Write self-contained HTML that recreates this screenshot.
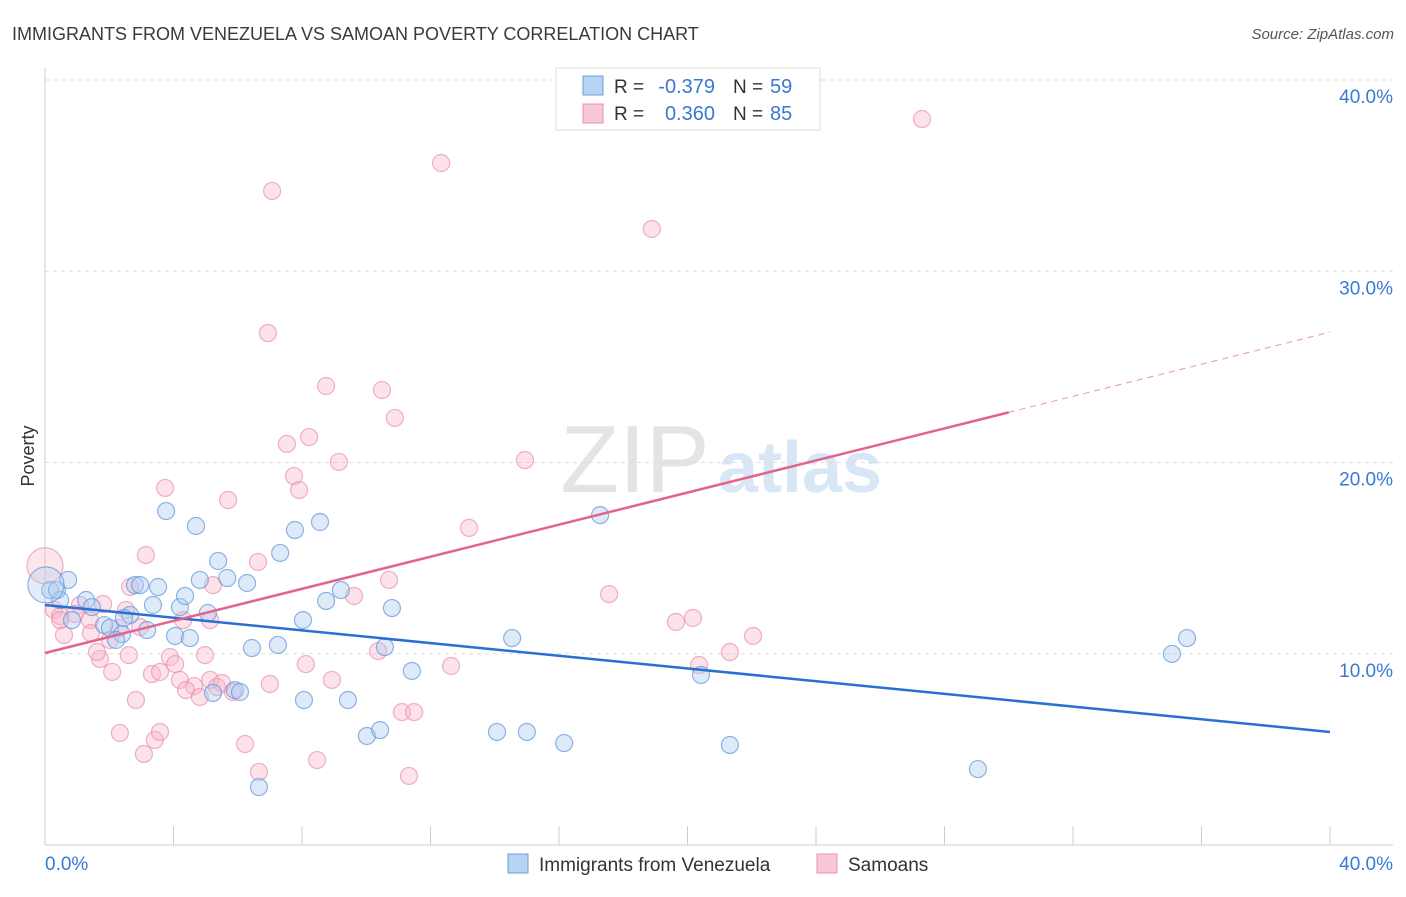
<!DOCTYPE html>
<html><head><meta charset="utf-8"><style>
body{margin:0;background:#fff;font-family:"Liberation Sans",sans-serif}
svg text{font-family:"Liberation Sans",sans-serif}
</style></head><body>
<svg id="c" width="1406" height="892">
<text x="12" y="40" font-size="18" fill="#3a3a3a">IMMIGRANTS FROM VENEZUELA VS SAMOAN POVERTY CORRELATION CHART</text>
<text x="1394" y="39" font-size="15" fill="#555" text-anchor="end" font-style="italic">Source: ZipAtlas.com</text>
<text x="34" y="456" font-size="18" fill="#333" transform="rotate(-90 34 456)" text-anchor="middle">Poverty</text>
<g><text x="635" y="492" font-size="96" font-family="Liberation Serif" fill="#e4e4e4" text-anchor="middle">ZIP</text><text x="800" y="492" font-size="72" fill="#d8e6f5" text-anchor="middle" font-weight="bold">atlas</text></g>
<g id="grid"></g><g id="pts"></g><g id="lines"></g>
<g>
<rect x="556" y="68" width="264" height="62" fill="#fff" stroke="#ddd"/>
<rect x="583" y="76" width="20" height="19" fill="#b8d2f2" stroke="#6a9fe0"/>
<rect x="583" y="104" width="20" height="19" fill="#f9c8d6" stroke="#ec8fac"/>
<text x="614" y="93" font-size="19" fill="#333">R =</text>
<text x="715" y="93" font-size="20" fill="#3a78d4" text-anchor="end">-0.379</text>
<text x="733" y="93" font-size="19" fill="#333">N =</text>
<text x="770" y="93" font-size="20" fill="#3a78d4">59</text>
<text x="614" y="120" font-size="19" fill="#333">R =</text>
<text x="715" y="120" font-size="20" fill="#3a78d4" text-anchor="end">0.360</text>
<text x="733" y="120" font-size="19" fill="#333">N =</text>
<text x="770" y="120" font-size="20" fill="#3a78d4">85</text>
</g>
<g>
<rect x="508" y="854" width="20" height="19" fill="#b8d2f2" stroke="#6a9fe0"/>
<text x="539" y="871" font-size="19" fill="#333">Immigrants from Venezuela</text>
<rect x="817" y="854" width="20" height="19" fill="#f9c8d6" stroke="#ec8fac"/>
<text x="848" y="871" font-size="19" fill="#333">Samoans</text>
</g>
</svg>
<script>
const yTicks=[10,20,30,40];
const yTickLabels=["10.0%","20.0%","30.0%","40.0%"];
const xTickLabels=["0.0%","40.0%"];
const blueX=[0.16,0.72,0.47,1.28,1.46,0.84,1.84,2.02,2.40,2.21,2.65,2.80,2.96,3.52,3.36,3.18,3.77,4.70,4.20,4.36,4.05,4.51,4.82,5.07,5.39,5.67,6.29,5.23,5.91,6.07,6.44,7.25,7.32,7.78,8.56,8.03,8.75,9.21,8.06,9.43,10.80,10.58,11.42,10.02,10.43,14.07,15.00,16.16,14.54,17.28,20.42,21.32,29.04,35.08,35.55,6.66,0.37,2.46,0.03];
const blueY=[13.33,13.86,12.81,12.81,12.44,11.76,11.50,11.35,11.03,10.72,12.03,13.59,13.59,13.49,12.55,11.24,17.46,16.68,12.44,13.02,10.93,10.82,13.86,12.13,14.85,13.96,13.70,7.95,8.10,8.00,10.30,10.46,15.27,16.47,16.89,11.76,12.76,13.33,7.58,7.58,12.39,10.35,9.10,5.70,6.01,5.91,5.91,5.33,10.82,17.25,8.89,5.23,3.97,9.99,10.82,3.03,13.33,11.87,13.6];
const pinkX=[7.07,12.33,18.89,27.30,6.94,8.75,10.49,10.89,8.22,7.53,9.15,7.75,7.91,14.94,3.74,5.70,13.20,3.14,6.63,10.71,17.56,20.17,19.64,22.04,9.62,5.23,2.65,1.81,1.09,2.52,0.28,0.93,0.47,1.40,2.30,2.96,0.59,1.43,1.71,1.62,2.61,3.89,4.98,2.09,3.33,3.58,4.05,4.20,4.64,4.39,5.14,5.35,5.51,4.82,5.85,7.00,8.12,8.93,10.37,12.64,20.36,21.32,2.83,2.33,3.42,3.58,3.08,6.23,6.66,8.47,11.11,11.49,11.33,0.47,2.02,5.14,4.30,0.0];
const pinkY=[34.20,35.66,32.21,37.96,26.77,24.00,23.79,22.33,21.33,20.97,20.03,19.29,18.56,20.13,18.67,18.04,16.58,15.16,14.80,13.86,13.12,11.87,11.66,10.93,13.02,13.59,13.49,12.60,12.55,12.29,12.29,12.08,11.97,11.76,11.35,11.40,10.98,11.08,9.73,10.09,9.93,9.83,9.93,9.05,8.94,9.05,9.46,8.63,8.31,8.10,8.63,8.26,8.47,7.74,8.00,8.42,9.46,8.63,10.14,9.36,9.41,10.09,7.58,5.86,5.49,5.91,4.76,5.28,3.82,4.44,6.95,6.95,3.61,11.76,10.72,11.76,11.76,14.6];
const blueTrend=[12.55,-0.166];
const pinkTrend=[10.04,0.4194];
const X=v=>45+v*32.125, Y=v=>845-v*19.125;
const NS="http://www.w3.org/2000/svg";
function mk(p,t,a){const e=document.createElementNS(NS,t);for(const k in a)e.setAttribute(k,a[k]);p.appendChild(e);return e;}
const g=document.getElementById('grid');
yTicks.forEach((t,i)=>{
 const l=mk(g,'line',{x1:45,x2:1393,y1:Y(t),y2:Y(t),stroke:'#ddd','stroke-dasharray':'4,4'});
 
 
 const tx=mk(g,'text',{x:1393,y:Y(t)+23,'font-size':19,fill:'#3a78d4','text-anchor':'end'});tx.textContent=yTickLabels[i];
 
 
});
const ax=mk(g,'line',{x1:45,x2:1393,y1:845,y2:845,stroke:'#ccc'});


const ay=mk(g,'line',{x1:45,x2:45,y1:68,y2:845,stroke:'#ccc'});


for(let k=0;k<=10;k++){const tk=mk(g,'line',{x1:X(k*4),x2:X(k*4),y1:826,y2:845,stroke:'#ccc'});
 
 }
[[0,'start'],[40,'end']].forEach((d,i)=>{const tx=mk(g,'text',{x:i?1393:45,y:870,'font-size':19,fill:'#3a78d4','text-anchor':d[1]});tx.textContent=xTickLabels[i];
 
 });
const p=document.getElementById('pts');
function pts(xs,ys,fill,stroke,name){xs.forEach((x,i)=>{const big=(i===xs.length-1);
 const c=mk(p,'circle',{cx:X(x),cy:Y(ys[i]),r:big?18:8.5,fill:fill,'fill-opacity':big?0.35:0.4,stroke:stroke,'stroke-opacity':0.7,'stroke-width':1.2});
 
 });}
pts(pinkX,pinkY,'#f7b6c9','#ec8fac','samoan-point');
pts(blueX,blueY,'#aecbf0','#5d95dc','venezuela-point');
const L=document.getElementById('lines');
const bl=mk(L,'line',{x1:X(0),y1:Y(blueTrend[0]),x2:X(40),y2:Y(blueTrend[0]+blueTrend[1]*40),stroke:'#2a6fd6','stroke-width':2.5});


const pl=mk(L,'line',{x1:X(0),y1:Y(pinkTrend[0]),x2:X(30),y2:Y(pinkTrend[0]+pinkTrend[1]*30),stroke:'#e4638e','stroke-width':2.5});


const pd=mk(L,'line',{x1:X(30),y1:Y(pinkTrend[0]+pinkTrend[1]*30),x2:X(40),y2:Y(pinkTrend[0]+pinkTrend[1]*40),stroke:'#e4638e','stroke-width':1,'stroke-dasharray':'6,5','stroke-opacity':0.7});


</script>
</body></html>
